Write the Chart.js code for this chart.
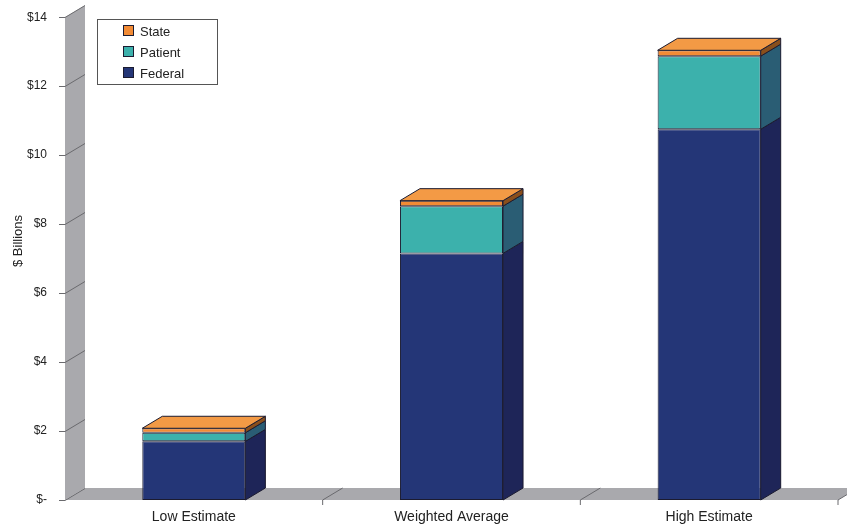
<!DOCTYPE html>
<html>
<head>
<meta charset="utf-8">
<script src="https://cdn.jsdelivr.net/npm/chart.js@4.4.1/dist/chart.umd.min.js"></script>
<style>
  html, body { margin: 0; padding: 0; background: #fff; }
  #wrap { width: 847px; height: 528px; }
</style>
</head>
<body>
<div id="wrap"><canvas id="costChart" width="847" height="528"></canvas></div>
<script>
// chart data
const categories = ["Low Estimate", "Weighted Average", "High Estimate"];
const federal = [1.7, 7.15, 10.75];
const patient = [0.25, 1.37, 2.12];
const state = [0.13, 0.16, 0.17];
const yTitle = "$ Billions";

const depthX = 20;
const depthY = -12;
const wallGray = "#a9a9ad";
const edgeColor = "#1b1b30";
const fontFamily = "'Liberation Sans', Arial, sans-serif";

// darker colours for the side faces
const sideColors = ["#1e2558", "#2a5d74", "#8a4f1c"];
const topColor = "#f39a45";

// walls, floor and tick marks drawn behind the bars
const wallPlugin = {
  id: "wall3d",
  beforeDatasetsDraw(chart) {
    const c = chart.ctx;
    const area = chart.chartArea;
    const yScale = chart.scales.y;

    c.save();
    c.fillStyle = wallGray;
    // side wall
    c.beginPath();
    c.moveTo(area.left, area.top);
    c.lineTo(area.left + depthX, area.top + depthY);
    c.lineTo(area.left + depthX, area.bottom + depthY);
    c.lineTo(area.left, area.bottom);
    c.closePath();
    c.fill();
    // floor
    c.beginPath();
    c.moveTo(area.left, area.bottom);
    c.lineTo(area.left + depthX, area.bottom + depthY);
    c.lineTo(area.right + depthX, area.bottom + depthY);
    c.lineTo(area.right, area.bottom);
    c.closePath();
    c.fill();

    // value lines on the wall + small ticks
    c.strokeStyle = "#6a6a6e";
    c.lineWidth = 1;
    yScale.ticks.forEach(function (t) {
      const py = Math.round(yScale.getPixelForValue(t.value)) + 0.5;
      c.beginPath();
      c.moveTo(area.left - 6, py);
      c.lineTo(area.left, py);
      c.lineTo(area.left + depthX, py + depthY);
      c.stroke();
    });

    // category dividers on the floor
    const n = categories.length;
    const step = (area.right - area.left) / n;
    for (let i = 1; i <= n; i++) {
      const px = area.left + step * i;
      c.beginPath();
      c.moveTo(px, area.bottom + 5);
      c.lineTo(px, area.bottom);
      c.lineTo(px + depthX, area.bottom + depthY);
      c.stroke();
    }
    c.restore();
  },
  afterDatasetsDraw(chart) {
    const c = chart.ctx;
    const last = chart.data.datasets.length - 1;
    c.save();
    c.strokeStyle = edgeColor;
    c.lineWidth = 1;
    chart.data.datasets.forEach(function (ds, di) {
      const meta = chart.getDatasetMeta(di);
      meta.data.forEach(function (bar) {
        const p = bar.getProps(["x", "y", "base", "width"], true);
        const l = p.x - p.width / 2;
        const r = p.x + p.width / 2;
        // right side face
        c.fillStyle = sideColors[di];
        c.beginPath();
        c.moveTo(r, p.y);
        c.lineTo(r + depthX, p.y + depthY);
        c.lineTo(r + depthX, p.base + depthY);
        c.lineTo(r, p.base);
        c.closePath();
        c.fill();
        c.stroke();
        // top face on the top segment
        if (di === last) {
          c.fillStyle = topColor;
          c.beginPath();
          c.moveTo(l, p.y);
          c.lineTo(l + depthX, p.y + depthY);
          c.lineTo(r + depthX, p.y + depthY);
          c.lineTo(r, p.y);
          c.closePath();
          c.fill();
          c.stroke();
        }
      });
    });
    c.restore();
  },
  afterDraw(chart) {
    const c = chart.ctx;
    c.save();

    // y axis title, a bit above the middle like the original
    c.translate(18, 241);
    c.rotate(-Math.PI / 2);
    c.font = "13px " + fontFamily;
    c.fillStyle = "#222";
    c.textAlign = "center";
    c.textBaseline = "middle";
    c.fillText(yTitle, 0, 0);
    c.setTransform(1, 0, 0, 1, 0, 0);

    // legend box, top segment listed first
    c.fillStyle = "#fff";
    c.fillRect(97.5, 19.5, 120, 65);
    c.strokeStyle = "#555";
    c.lineWidth = 1;
    c.strokeRect(97.5, 19.5, 120, 65);
    const items = chart.data.datasets.slice().reverse();
    c.font = "13px " + fontFamily;
    c.textAlign = "left";
    c.textBaseline = "middle";
    items.forEach(function (ds, i) {
      const cy = 31 + i * 21;
      c.fillStyle = ds.backgroundColor;
      c.fillRect(123.5, cy - 5.5, 10, 10);
      c.strokeStyle = edgeColor;
      c.strokeRect(123.5, cy - 5.5, 10, 10);
      c.fillStyle = "#222";
      c.fillText(ds.label, 140, cy + 1);
    });
    c.restore();
  }
};

document.addEventListener("DOMContentLoaded", function () {
  const ctx = document.getElementById("costChart").getContext("2d");

  const costChart = new Chart(ctx, {
    type: "bar",
    data: {
      labels: categories,
      datasets: [
        {
          label: "Federal",
          data: federal,
          backgroundColor: "#243677",
          borderColor: edgeColor,
          borderWidth: 1,
          borderSkipped: false,
        },
        {
          label: "Patient",
          data: patient,
          backgroundColor: "#3cb1ac",
          borderColor: edgeColor,
          borderWidth: 1,
          borderSkipped: false,
        },
        {
          label: "State",
          data: state,
          backgroundColor: "#f28b35",
          borderColor: edgeColor,
          borderWidth: 1,
          borderSkipped: false,
        },
      ],
    },
    options: {
      responsive: false,
      animation: false,
      layout: {
        padding: { top: 11, right: 9, left: 0, bottom: 0 },
      },
      datasets: {
        bar: { barPercentage: 0.4, categoryPercentage: 1.0 },
      },
      plugins: {
        legend: { display: false },
        tooltip: { enabled: false },
      },
      scales: {
        x: {
          stacked: true,
          grid: { display: false },
          border: { display: false },
          ticks: {
            color: "#222",
            padding: 1,
            font: { family: fontFamily, size: 14 },
          },
          afterFit: function (scale) {
            scale.height = 28;
          },
        },
        y: {
          stacked: true,
          min: 0,
          max: 14,
          grid: { display: false },
          border: { display: false },
          ticks: {
            stepSize: 2,
            color: "#222",
            padding: 10,
            font: { family: fontFamily, size: 12 },
            callback: function (v) {
              return v === 0 ? "$-" : "$" + v;
            },
          },
          afterFit: function (scale) {
            scale.width = 65;
          },
        },
      },
    },
    plugins: [wallPlugin],
  });
});
</script>
</body>
</html>
